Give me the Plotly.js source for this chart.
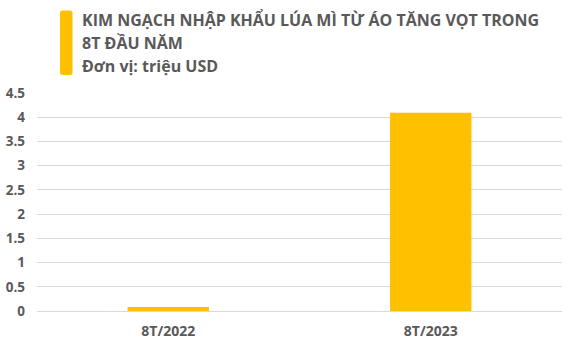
<!DOCTYPE html>
<html>
<head>
<meta charset="utf-8">
<script src="https://cdn.plot.ly/plotly-3.0.1.min.js"></script>
<style>
  html, body { margin: 0; padding: 0; background: #ffffff; }
  #chart { width: 572px; height: 349px; }
</style>
</head>
<body>
<div id="chart"></div>
<script>
// Wheat import value from Austria, first 8 months (million USD)
const periods = ['8T/2022', '8T/2023'];
const importValues = [0.08, 4.09];
const yTicks = [0, 0.5, 1, 1.5, 2, 2.5, 3, 3.5, 4, 4.5];
const yTickLabels = ['0', '0.5', '1', '1.5', '2', '2.5', '3', '3.5', '4', '4.5'];
const headingLines = [
  'KIM NGẠCH NHẬP KHẨU LÚA MÌ TỪ ÁO TĂNG VỌT TRONG',
  '8T ĐẦU NĂM',
  'Đơn vị: triệu USD'
];

const textGray = '#595959';
const gold = '#FFC000';
const fontFamily = '"Open Sans", "Noto Sans", sans-serif';

// plot area geometry in pixels
const W = 572, H = 349;
const M = { l: 37, r: 10, t: 93, b: 38 };
const plotW = W - M.l - M.r;
const plotH = H - M.t - M.b;
const px2x = px => (px - M.l) / plotW;
const py2y = py => (H - M.b - py) / plotH;

const trace = {
  type: 'bar',
  x: periods,
  y: importValues,
  marker: { color: gold },
  hoverinfo: 'x+y'
};

// heading lines placed as left-aligned annotations
const lineCenters = [19.5, 42.8, 66.1];
const annotations = headingLines.map((t, i) => ({
  text: t,
  xref: 'paper',
  yref: 'paper',
  x: px2x(80),
  y: py2y(lineCenters[i]),
  xanchor: 'left',
  yanchor: 'middle',
  showarrow: false,
  align: 'left',
  font: { family: fontFamily, size: 16, color: textGray, weight: 700 }
}));

// rounded accent bar beside the heading
const bx0 = px2x(60), bx1 = px2x(72.5);
const by0 = py2y(75), by1 = py2y(10.5);
const rx = 2.5 / plotW, ry = 2.5 / plotH;
const accentPath =
  `M ${bx0 + rx} ${by1} L ${bx1 - rx} ${by1} Q ${bx1} ${by1} ${bx1} ${by1 - ry} ` +
  `L ${bx1} ${by0 + ry} Q ${bx1} ${by0} ${bx1 - rx} ${by0} ` +
  `L ${bx0 + rx} ${by0} Q ${bx0} ${by0} ${bx0} ${by0 + ry} ` +
  `L ${bx0} ${by1 - ry} Q ${bx0} ${by1} ${bx0 + rx} ${by1} Z`;

const layout = {
  width: W,
  height: H,
  margin: M,
  paper_bgcolor: '#ffffff',
  plot_bgcolor: '#ffffff',
  showlegend: false,
  bargap: 0.69,
  xaxis: {
    showgrid: false,
    showline: false,
    ticks: '',
    ticklabelstandoff: 10,
    tickfont: { family: fontFamily, size: 14, color: textGray, weight: 700 },
    fixedrange: true
  },
  yaxis: {
    range: [0, 4.5],
    tickvals: yTicks,
    ticktext: yTickLabels,
    showgrid: true,
    gridcolor: '#d9d9d9',
    gridwidth: 1,
    zeroline: true,
    zerolinecolor: '#d9d9d9',
    zerolinewidth: 1,
    showline: false,
    ticks: '',
    ticklabelstandoff: 11,
    tickfont: { family: fontFamily, size: 13.5, color: textGray, weight: 700 },
    fixedrange: true
  },
  annotations: annotations,
  shapes: [
    {
      type: 'path',
      xref: 'paper',
      yref: 'paper',
      path: accentPath,
      fillcolor: gold,
      line: { width: 0 }
    }
  ]
};

Plotly.newPlot('chart', [trace], layout, { displayModeBar: false, staticPlot: true });
</script>
</body>
</html>
